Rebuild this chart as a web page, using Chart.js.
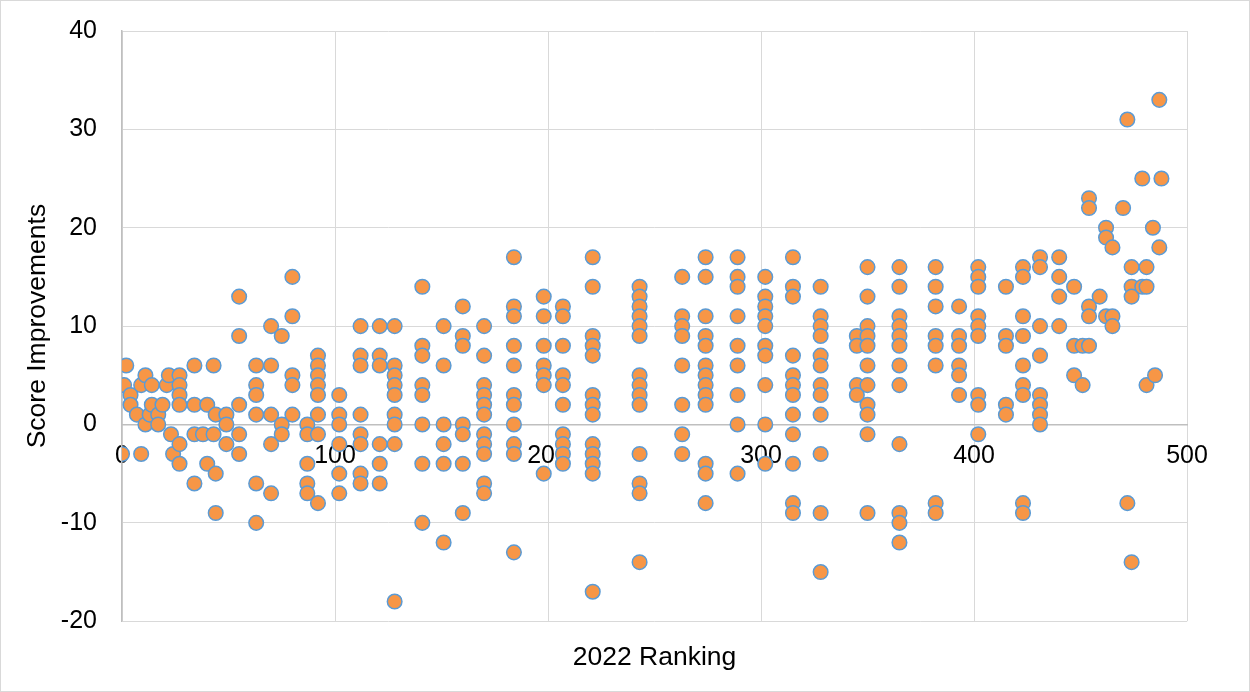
<!DOCTYPE html>
<html>
<head>
<meta charset="utf-8">
<script src="https://cdn.jsdelivr.net/npm/chart.js@4"></script>
<style>
  body { margin: 0; background: #fff; }
  #wrap { width: 1250px; height: 692px; box-sizing: border-box; border: 1px solid #d9d9d9; }
  canvas { display: block; }
</style>
</head>
<body>
<div id="wrap"><canvas id="chart1" width="1248" height="690"></canvas></div>
<script>
// 2022 ranking positions (one column of points per ranking value)
const rankings = [0, 1, 2, 4, 7, 9, 11, 13, 14, 17, 19, 21, 22, 23, 24, 27, 34, 38, 40, 43, 44, 49, 55, 63, 70, 75, 80,
  87, 92, 102, 112, 121, 128, 141, 151, 160, 170, 184, 198, 207, 221, 243, 263, 274, 289, 302, 315, 328,
  345, 350, 365, 382, 393, 402, 415, 423, 431, 440, 447, 451, 454, 459, 462, 465, 470, 472, 474, 479, 481,
  484, 485, 487, 488];

// score improvements for each ranking above
const improvements = [
  [-3], [4], [6], [3, 2], [1], [4, -3], [5, 0], [1], [4, 2], [1, 0], [2], [4], [5], [-1], [-3],
  [5, 4, 3, 2, -2, -4], [6, 2, -1, -6], [-1], [2, -4], [6, -1], [1, -5, -9], [1, 0, -2],
  [13, 9, 2, -1, -3], [6, 4, 3, 1, -6, -10], [10, 6, 1, -2, -7], [9, 0, -1], [15, 11, 5, 4, 1],
  [0, -1, -4, -6, -7], [7, 6, 5, 4, 3, 1, -1, -8], [3, 1, 0, -2, -5, -7], [10, 7, 6, 1, -1, -2, -5, -6],
  [10, 7, 6, -2, -4, -6], [10, 6, 5, 4, 3, 1, 0, -2, -18], [14, 8, 7, 4, 3, 0, -4, -10],
  [10, 6, 0, -2, -4, -12], [12, 9, 8, 0, -1, -4, -9], [10, 7, 4, 3, 2, 1, -1, -2, -3, -6, -7],
  [17, 12, 11, 8, 6, 3, 2, 0, -2, -3, -13], [13, 11, 8, 6, 5, 4, -5], [12, 11, 8, 5, 4, 2, -1, -2, -3, -4],
  [17, 14, 9, 8, 7, 3, 2, 1, -2, -3, -4, -5, -17], [14, 13, 12, 11, 10, 9, 5, 4, 3, 2, -3, -6, -7, -14],
  [15, 11, 10, 9, 6, 2, -1, -3], [17, 15, 11, 9, 8, 6, 5, 4, 3, 2, -4, -5, -8], [17, 15, 14, 11, 8, 6, 3, 0, -5],
  [15, 13, 12, 11, 10, 8, 7, 4, 0, -4], [17, 14, 13, 7, 5, 4, 3, 1, -1, -4, -8, -9],
  [14, 11, 10, 9, 7, 6, 4, 3, 1, -3, -9, -15], [9, 8, 4, 3], [16, 13, 10, 9, 8, 6, 4, 2, 1, -1, -9],
  [16, 14, 11, 10, 9, 8, 6, 4, -2, -9, -10, -12], [16, 14, 12, 9, 8, 6, -8, -9], [12, 9, 8, 6, 5, 3],
  [16, 15, 14, 11, 10, 9, 3, 2, -1], [14, 9, 8, 2, 1], [16, 15, 11, 9, 6, 4, 3, -8, -9],
  [17, 16, 10, 7, 3, 2, 1, 0], [17, 15, 13, 10], [14, 8, 5], [8, 4], [23, 22, 12, 11, 8], [13],
  [20, 19, 11], [18, 11, 10], [22], [31, -8], [16, 14, 13, -14], [25, 14], [16, 14, 4], [20], [5],
  [33, 18], [25]
];

const xTicks = [0, 100, 200, 300, 400, 500];
const yTicks = [-20, -10, 0, 10, 20, 30, 40];

// flatten into scatter points
const points = [];
rankings.forEach((r, i) => {
    improvements[i].forEach(v => points.push({ x: r, y: v }));
});

const font = { family: '"Liberation Sans", Arial, sans-serif', size: 25, weight: 'normal' };
const titleFont = { family: '"Liberation Sans", Arial, sans-serif', size: 26.5, weight: 'normal' };

let chart1 = new Chart(document.getElementById('chart1'), {
    type: 'scatter',
    data: {
        datasets: [{
            data: points,
            backgroundColor: '#F79646',
            borderColor: '#5B9BD5',
            borderWidth: 1.5,
            pointRadius: 7.3,
            pointHoverRadius: 7.3
        }]
    },
    options: {
        responsive: false,
        animation: false,
        layout: { padding: { top: 30, right: 62, bottom: 10, left: 0 } },
        plugins: {
            legend: { display: false },
            tooltip: { enabled: false },
            title: {
                display: true,
                position: 'bottom',
                fullSize: false,
                text: '2022 Ranking',
                color: '#000',
                font: titleFont,
                padding: { top: 21, bottom: 7 }
            }
        },
        scales: {
            x: {
                type: 'linear',
                position: { y: 0 },
                min: xTicks[0],
                max: xTicks[xTicks.length - 1],
                afterBuildTicks: (scale) => { scale.ticks = xTicks.map(v => ({ value: v })); },
                grid: { color: '#d9d9d9', lineWidth: 1, drawTicks: false },
                border: { color: '#bfbfbf', width: 1.5 },
                ticks: { color: '#000', font: font, padding: 17, maxRotation: 0, autoSkip: false }
            },
            y: {
                type: 'linear',
                position: 'left',
                min: yTicks[0],
                max: yTicks[yTicks.length - 1],
                afterBuildTicks: (scale) => { scale.ticks = yTicks.map(v => ({ value: v })); },
                afterFit: (scale) => {
                    scale.width = 121;
                    // the tick padding should not push the plot down
                    scale.paddingTop = 15;
                    scale.paddingBottom = 15;
                },
                grid: { color: '#d9d9d9', lineWidth: 1, drawTicks: false },
                border: { color: '#bfbfbf', width: 1.5 },
                ticks: { color: '#000', font: font, padding: 25 },
                title: {
                    display: true,
                    text: 'Score Improvements',
                    color: '#000',
                    font: titleFont,
                    padding: { top: 21, bottom: 0 }
                }
            }
        }
    }
});
</script>
</body>
</html>
